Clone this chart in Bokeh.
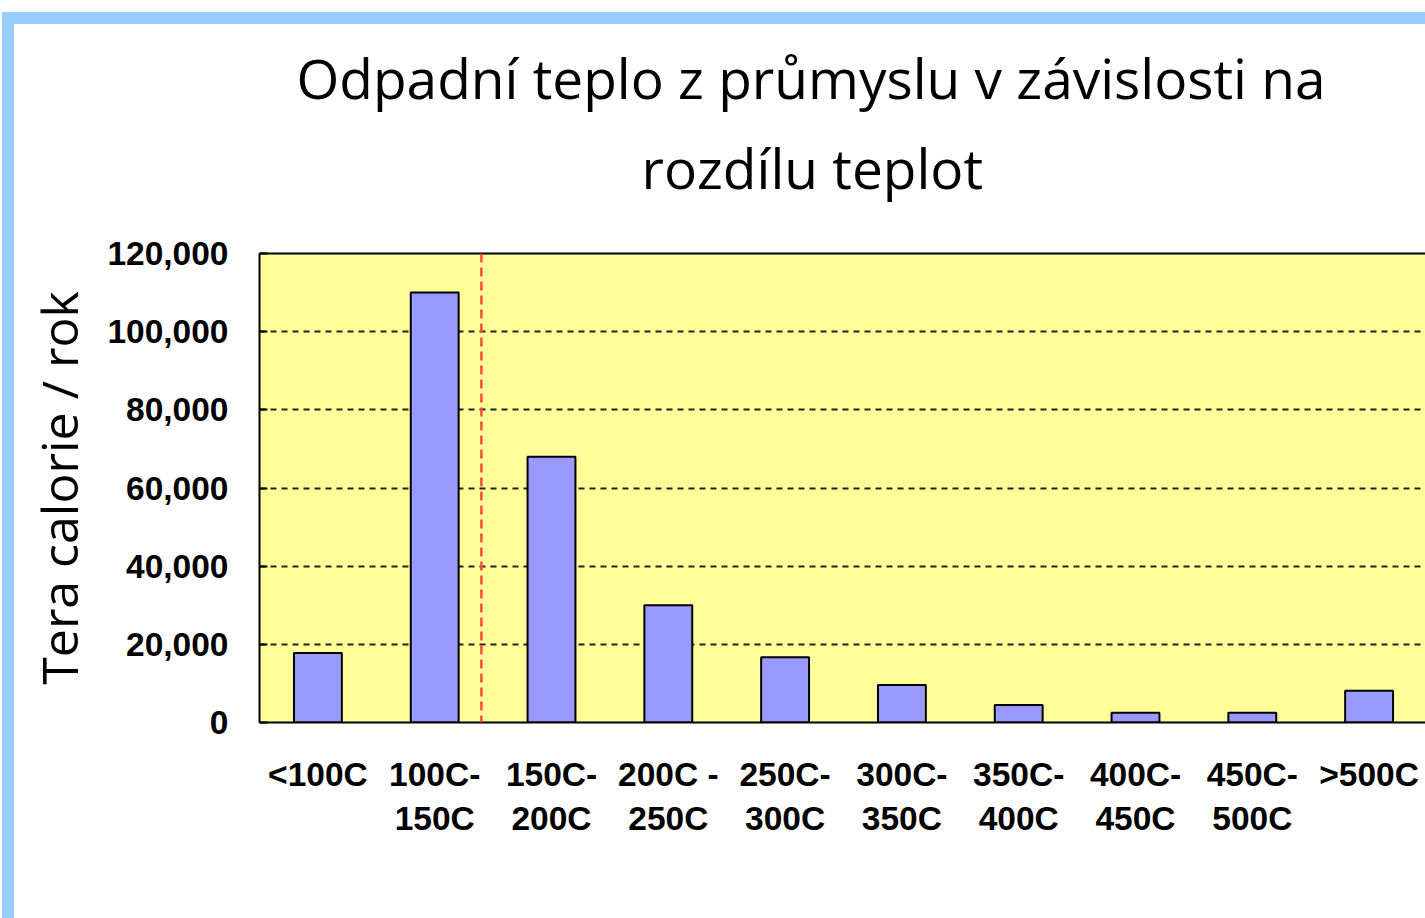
from bokeh.plotting import figure
from bokeh.models import (Range1d, FixedTicker, NumeralTickFormatter, Span, Title,
                          LinearAxis, InlineStyleSheet)
from bokeh.embed import file_html
from bokeh.resources import INLINE

# ---- data ----
categories = ["<100C", "100C-\n150C", "150C-\n200C", "200C -\n250C", "250C-\n300C",
              "300C-\n350C", "350C-\n400C", "400C-\n450C", "450C-\n500C", ">500C"]
values = [17800, 110000, 68000, 30000, 16700, 9600, 4500, 2500, 2500, 8100]
y_ticks = [0, 20000, 40000, 60000, 80000, 100000, 120000]
title_lines = ["Odpadní teplo z průmyslu v závislosti na", "rozdílu teplot"]
y_label = "Tera calorie / rok"
marker_x = 1.4  # red dashed reference line position (category units)

positions = list(range(len(categories)))

W, H = 1425, 918
ML, MT, MB = 259, 253, 196
frame_w = W - ML
PX_PER_CAT = 116.8

p = figure(width=W, height=H, output_backend="svg", toolbar_location=None, title=None,
           x_range=Range1d(-0.5, -0.5 + frame_w / PX_PER_CAT), y_range=Range1d(0, 120000),
           min_border_left=ML, min_border_top=MT, min_border_bottom=MB, min_border_right=0)

p.background_fill_color = "#FFFF99"
p.border_fill_color = "white"
p.outline_line_color = None

p.vbar(x=positions, top=values, width=0.41, fill_color="#9999FF",
       line_color="black", line_width=2)

# axes
p.xaxis.ticker = FixedTicker(ticks=positions)
p.xaxis.major_label_overrides = {i: c for i, c in enumerate(categories)}
p.xaxis.major_tick_in = 0
p.xaxis.major_tick_out = 0
p.xaxis.minor_tick_in = 0
p.xaxis.minor_tick_out = 0
p.xaxis.axis_line_color = "black"
p.xaxis.axis_line_width = 2
p.xaxis.major_label_text_font = "Liberation Sans"
p.xaxis.major_label_text_font_style = "bold"
p.xaxis.major_label_text_font_size = "33.5px"
p.xaxis.major_label_text_color = "black"
p.xaxis.major_label_text_line_height = 1.2
p.xaxis.major_label_standoff = 33

p.yaxis.ticker = FixedTicker(ticks=y_ticks)
p.yaxis.formatter = NumeralTickFormatter(format="0,0")
p.yaxis.major_tick_in = 8
p.yaxis.major_tick_out = 0
p.yaxis.minor_tick_in = 0
p.yaxis.minor_tick_out = 0
p.yaxis.major_tick_line_width = 2
p.yaxis.axis_line_color = "black"
p.yaxis.axis_line_width = 2
p.yaxis.major_label_text_font = "Liberation Sans"
p.yaxis.major_label_text_font_style = "bold"
p.yaxis.major_label_text_font_size = "33.5px"
p.yaxis.major_label_text_color = "black"
p.yaxis.major_label_standoff = 31
p.yaxis.axis_label = y_label
p.yaxis.axis_label_text_font = "Open Sans"
p.yaxis.axis_label_text_font_style = "normal"
p.yaxis.axis_label_text_font_size = "50px"
p.yaxis.axis_label_text_color = "black"
p.yaxis.axis_label_standoff = 11

# top frame edge
top_axis = LinearAxis(ticker=FixedTicker(ticks=[]), axis_line_color="black", axis_line_width=2,
                      major_tick_in=0, major_tick_out=0, minor_tick_in=0, minor_tick_out=0,
                      major_label_text_font_size="0px", major_label_standoff=0)
p.add_layout(top_axis, "above")

p.xgrid.visible = False
p.ygrid.ticker = FixedTicker(ticks=y_ticks)
p.ygrid.grid_line_color = "#222222"
p.ygrid.grid_line_width = 2
p.ygrid.grid_line_dash = "6 5"
p.ygrid.level = "underlay"

p.add_layout(Span(location=marker_x, dimension="height", line_color="#FF4A3A",
                  line_width=2.5, line_dash="9 5"))

# title: two lines, inner (second line) added first
p.add_layout(Title(text=title_lines[1], align="left", offset=646 - ML - 5, standoff=98,
                   text_font="Open Sans", text_font_size="55px", text_font_style="normal",
                   text_color="black"), "above")
p.add_layout(Title(text=title_lines[0], align="left", offset=301 - ML - 5, standoff=-73,
                   text_font="Open Sans", text_font_size="55px", text_font_style="normal",
                   text_color="black"), "above")

# light blue slide frame (top and left edges)
p.stylesheets = [InlineStyleSheet(css="""
:host::before { content: ""; position: absolute; left: 2px; top: 12px; width: 12px;
  height: 906px; background: #99CCFF; z-index: 5; pointer-events: none; }
:host::after { content: ""; position: absolute; left: 2px; top: 12px; width: 1423px;
  height: 12px; background: #99CCFF; z-index: 5; pointer-events: none; }
""")]

open("out.html", "w").write(file_html(p, INLINE))
